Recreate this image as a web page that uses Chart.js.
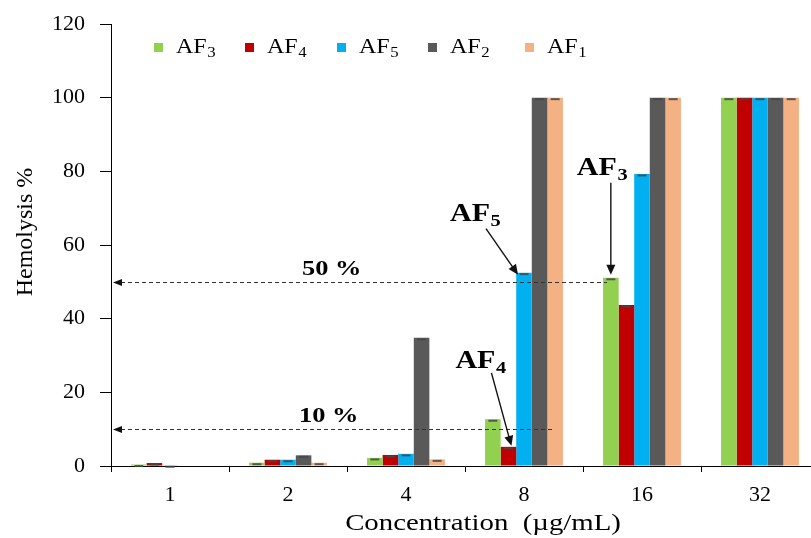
<!DOCTYPE html>
<html>
<head>
<meta charset="utf-8">
<script src="https://cdn.jsdelivr.net/npm/chart.js@4.4.1/dist/chart.umd.min.js"></script>
<style>
  html, body { margin: 0; padding: 0; background: #fff; overflow: hidden; }
  #wrap { width: 830px; height: 538px; }
  .fontwarm { position: absolute; left: -999px; top: 0; font-family: "Liberation Serif"; }
</style>
</head>
<body>
<div class="fontwarm">Hemolysis <b>AF</b></div>
<div id="wrap"><canvas id="c" width="830" height="538"></canvas></div>
<script>
// Concentrations tested (µg/mL)
const concentrations = ['1', '2', '4', '8', '16', '32'];

// Hemolysis (%) per fraction
const af3 = [0.4, 0.9, 2.2, 12.7, 51.1, 100];
const af4 = [0.8, 1.7, 3.0, 5.2, 43.7, 100];
const af5 = [0.2, 1.7, 3.3, 52.5, 79.3, 100];
const af2 = [0, 2.9, 34.8, 100, 100, 100];
const af1 = [0, 0.9, 1.8, 100, 100, 100];

// Series names: base text + subscript digit
const seriesBase = 'AF';
const seriesSub = ['3', '4', '5', '2', '1'];
const seriesColors = ['#92D050', '#C00000', '#00B0F0', '#595959', '#F4B183'];

const yTicks = [0, 20, 40, 60, 80, 100, 120];

// Reference threshold lines (% hemolysis) and their labels
const thresholdValues = [50, 10];
const thresholdLabels = ['50 %', '10 %'];

// Callouts: [series index, category index, subscript]
const callouts = [[2, 3, '5'], [1, 3, '4'], [0, 4, '3']];

const SERIF = '"Liberation Serif"';
const SX = 1.2; // horizontal widening of the figure text

function subText(ctx, x, y, base, sub, size, bold) {
  ctx.save();
  ctx.translate(x, y);
  ctx.scale(SX, 1);
  ctx.fillStyle = '#000';
  ctx.textAlign = 'left';
  ctx.textBaseline = 'alphabetic';
  ctx.font = (bold ? 'bold ' : '') + size + 'px ' + SERIF;
  ctx.fillText(base, 0, 0);
  const w = ctx.measureText(base).width;
  ctx.font = (bold ? 'bold ' : '') + Math.round(size * 0.68) + 'px ' + SERIF;
  ctx.fillText(sub, w + 0.5, size * 0.22);
  ctx.restore();
}

function arrow(ctx, x1, y1, x2, y2, head, half) {
  const a = Math.atan2(y2 - y1, x2 - x1);
  const c = Math.cos(a), s = Math.sin(a);
  ctx.beginPath();
  ctx.moveTo(x1, y1);
  ctx.lineTo(x2 - head * 0.8 * c, y2 - head * 0.8 * s);
  ctx.stroke();
  ctx.beginPath();
  ctx.moveTo(x2, y2);
  ctx.lineTo(x2 - head * c + half * s, y2 - head * s - half * c);
  ctx.lineTo(x2 - head * c - half * s, y2 - head * s + half * c);
  ctx.closePath();
  ctx.fill();
}

const decorations = {
  id: 'decorations',
  afterDatasetsDraw(chart) {
    const ctx = chart.ctx;
    const yS = chart.scales.y;
    ctx.save();

    // small error caps on the bar tops
    chart.data.datasets.forEach((ds, i) => {
      const meta = chart.getDatasetMeta(i);
      meta.data.forEach((el, j) => {
        if (ds.data[j] <= 0) return;
        ctx.fillStyle = 'rgba(70,70,70,0.85)';
        ctx.fillRect(el.x - 4.5, el.y + 0.5, 9, 2);
      });
    });

    // dashed threshold lines with arrowheads on the y axis
    const ends = [607, 553];
    const labelX = [302, 299];
    thresholdValues.forEach((v, k) => {
      const y = Math.round(yS.getPixelForValue(v)) + 0.5;
      const x0 = chart.chartArea.left + 2;
      ctx.strokeStyle = '#333';
      ctx.lineWidth = 1.2;
      ctx.setLineDash([4, 3]);
      ctx.beginPath();
      ctx.moveTo(x0 + 8, y);
      ctx.lineTo(ends[k], y);
      ctx.stroke();
      ctx.setLineDash([]);
      ctx.fillStyle = '#111';
      ctx.beginPath();
      ctx.moveTo(x0, y);
      ctx.lineTo(x0 + 9, y - 3.5);
      ctx.lineTo(x0 + 9, y + 3.5);
      ctx.closePath();
      ctx.fill();
      ctx.save();
      ctx.translate(labelX[k], y - 8);
      ctx.scale(SX, 1);
      ctx.font = 'bold 22px ' + SERIF;
      ctx.fillStyle = '#000';
      ctx.textBaseline = 'alphabetic';
      ctx.fillText(thresholdLabels[k], 0, 0);
      ctx.restore();
    });

    // callouts pointing at bars: offsets from the arrow tip
    const geo = [
      { tip: [-6, 2], tail: [-32, -46], text: [-68, -54] },
      { tip: [3, -1], tail: [-20, -73], text: [-56, -78] },
      { tip: [0, -3], tail: [0, -92], text: [-34, -100] }
    ];
    callouts.forEach(([di, ci, sub], k) => {
      const el = chart.getDatasetMeta(di).data[ci];
      const g = geo[k];
      const tipX = el.x + g.tip[0];
      const tipY = el.y + g.tip[1];
      ctx.strokeStyle = '#111';
      ctx.fillStyle = '#111';
      ctx.lineWidth = 1.4;
      arrow(ctx, tipX + g.tail[0], tipY + g.tail[1], tipX, tipY, 10, 4.5);
      subText(ctx, tipX + g.text[0], tipY + g.text[1], seriesBase, sub, 25, true);
    });

    ctx.restore();
  },
  afterDraw(chart) {
    const ctx = chart.ctx;
    ctx.save();
    // legend
    const boxX = [154, 245, 337, 428, 525];
    chart.data.datasets.forEach((ds, i) => {
      ctx.fillStyle = ds.backgroundColor;
      ctx.fillRect(boxX[i], 43, 9, 9);
      subText(ctx, boxX[i] + 22, 53, seriesBase, seriesSub[i], 20, false);
    });
    // axis titles
    ctx.fillStyle = '#000';
    ctx.save();
    ctx.translate(483, 530);
    ctx.scale(SX, 1);
    ctx.font = '24px ' + SERIF;
    ctx.textAlign = 'center';
    ctx.textBaseline = 'alphabetic';
    ctx.fillText('Concentration  (\u00B5g/mL)', 0, 0);
    ctx.restore();
    ctx.save();
    ctx.translate(32, 232);
    ctx.rotate(-Math.PI / 2);
    ctx.font = '24px ' + SERIF;
    ctx.textAlign = 'center';
    ctx.textBaseline = 'alphabetic';
    ctx.fillText('Hemolysis %', 0, 0);
    ctx.restore();
    ctx.restore();
  }
};

const seriesData = [af3, af4, af5, af2, af1];

function build() {
  new Chart(document.getElementById('c'), {
    type: 'bar',
    data: {
      labels: concentrations,
      datasets: seriesData.map((d, i) => ({
        label: seriesBase + seriesSub[i],
        data: d,
        backgroundColor: seriesColors[i],
        borderWidth: 0
      }))
    },
    options: {
      responsive: false,
      animation: false,
      events: [],
      layout: { padding: { left: 0, right: 11, top: 24, bottom: 0 } },
      datasets: { bar: { categoryPercentage: 0.66, barPercentage: 1.0 } },
      plugins: { legend: { display: false }, tooltip: { enabled: false } },
      scales: {
        x: {
          grid: { display: true, drawOnChartArea: false, tickLength: 6, color: '#000', offset: true },
          border: { display: true, color: '#000', width: 1 },
          ticks: { font: { family: SERIF, size: 22 }, color: '#000', padding: 10 },
          afterFit(s) { s.height = 72; s.paddingLeft = 0; s.paddingRight = 0; }
        },
        y: {
          min: 0,
          max: 120,
          afterBuildTicks(s) { s.ticks = yTicks.map(v => ({ value: v })); },
          grid: { drawOnChartArea: false, tickLength: 11, color: '#000' },
          border: { display: true, color: '#000', width: 1 },
          ticks: { font: { family: SERIF, size: 22 }, color: '#000', padding: 15 },
          afterFit(s) { s.width = 111; s.paddingTop = 0; s.paddingBottom = 0; }
        }
      }
    },
    plugins: [decorations]
  });
}

Promise.all([
  document.fonts.load('22px "Liberation Serif"'),
  document.fonts.load('bold 22px "Liberation Serif"')
]).then(build, build);
</script>
</body>
</html>
